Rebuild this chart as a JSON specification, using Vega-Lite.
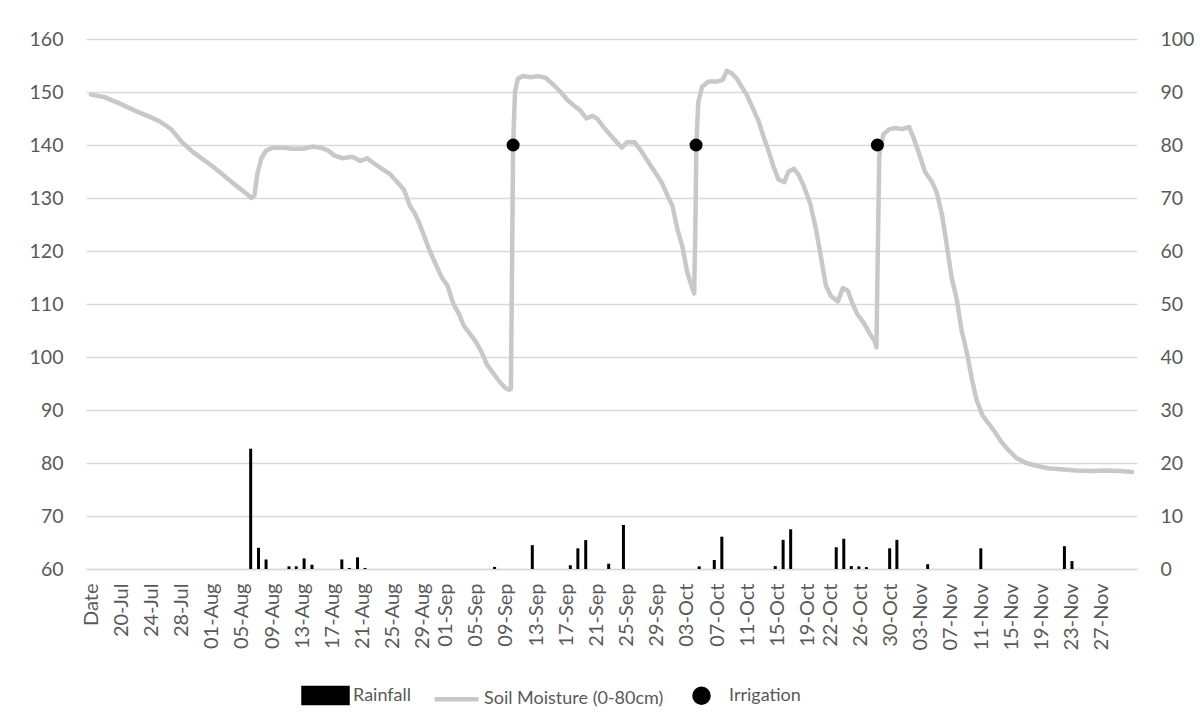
{
  "$schema": "https://vega.github.io/schema/vega-lite/v6.json",
  "autosize": {"type": "none"},
  "width": 1051,
  "height": 530,
  "padding": {"left": 86, "top": 39, "right": 63, "bottom": 157},
  "background": "white",
  "config": {
    "view": {"stroke": null},
    "font": "Lato",
    "axis": {"labelFont": "Lato", "labelColor": "#595959", "labelFontSize": 19.5, "ticks": false, "title": null}
  },
  "datasets": {
    "rain": [
      {"date": "2019-08-06T04:00:00Z", "rain": 22.7},
      {"date": "2019-08-07T05:00:00Z", "rain": 4.0},
      {"date": "2019-08-08T05:00:00Z", "rain": 1.8},
      {"date": "2019-08-11T06:00:00Z", "rain": 0.5},
      {"date": "2019-08-12T05:00:00Z", "rain": 0.5},
      {"date": "2019-08-13T06:00:00Z", "rain": 2.0},
      {"date": "2019-08-14T07:00:00Z", "rain": 0.8},
      {"date": "2019-08-18T06:00:00Z", "rain": 1.8},
      {"date": "2019-08-19T06:00:00Z", "rain": 0.2},
      {"date": "2019-08-20T08:00:00Z", "rain": 2.2},
      {"date": "2019-08-21T08:00:00Z", "rain": 0.2},
      {"date": "2019-09-07T12:00:00Z", "rain": 0.4},
      {"date": "2019-09-12T12:00:00Z", "rain": 4.5},
      {"date": "2019-09-17T13:00:00Z", "rain": 0.7},
      {"date": "2019-09-18T13:00:00Z", "rain": 3.9},
      {"date": "2019-09-19T14:00:00Z", "rain": 5.45},
      {"date": "2019-09-22T15:00:00Z", "rain": 1.0},
      {"date": "2019-09-24T14:00:00Z", "rain": 8.3},
      {"date": "2019-10-04T15:00:00Z", "rain": 0.5},
      {"date": "2019-10-06T15:00:00Z", "rain": 1.7},
      {"date": "2019-10-07T15:00:00Z", "rain": 6.1},
      {"date": "2019-10-14T17:00:00Z", "rain": 0.55},
      {"date": "2019-10-15T18:00:00Z", "rain": 5.5},
      {"date": "2019-10-16T18:00:00Z", "rain": 7.5},
      {"date": "2019-10-22T19:00:00Z", "rain": 4.1},
      {"date": "2019-10-23T19:00:00Z", "rain": 5.7},
      {"date": "2019-10-24T19:00:00Z", "rain": 0.55},
      {"date": "2019-10-25T19:00:00Z", "rain": 0.5},
      {"date": "2019-10-26T19:00:00Z", "rain": 0.35},
      {"date": "2019-10-29T21:00:00Z", "rain": 3.9},
      {"date": "2019-10-30T20:00:00Z", "rain": 5.5},
      {"date": "2019-11-03T22:00:00Z", "rain": 0.9},
      {"date": "2019-11-10T23:00:00Z", "rain": 3.9},
      {"date": "2019-11-22T01:00:00Z", "rain": 4.3},
      {"date": "2019-11-23T01:00:00Z", "rain": 1.5}
    ],
    "irrigation": [
      {"date": "2019-09-09T23:00:00Z", "irrigation": 80},
      {"date": "2019-10-04T05:00:00Z", "irrigation": 80},
      {"date": "2019-10-28T06:00:00Z", "irrigation": 80}
    ],
    "soil": [
      {"date": "2019-07-16T00:00:00Z", "moisture": 149.5},
      {"date": "2019-07-17T20:00:00Z", "moisture": 149},
      {"date": "2019-07-19T13:00:00Z", "moisture": 148},
      {"date": "2019-07-21T19:00:00Z", "moisture": 146.5},
      {"date": "2019-07-23T12:00:00Z", "moisture": 145.5},
      {"date": "2019-07-25T01:00:00Z", "moisture": 144.5},
      {"date": "2019-07-26T15:00:00Z", "moisture": 143},
      {"date": "2019-07-28T02:00:00Z", "moisture": 140.5},
      {"date": "2019-07-29T16:00:00Z", "moisture": 138.5},
      {"date": "2019-07-31T15:00:00Z", "moisture": 136.5},
      {"date": "2019-08-01T23:00:00Z", "moisture": 135},
      {"date": "2019-08-03T06:00:00Z", "moisture": 133.5},
      {"date": "2019-08-04T13:00:00Z", "moisture": 132},
      {"date": "2019-08-05T15:00:00Z", "moisture": 130.8},
      {"date": "2019-08-06T06:00:00Z", "moisture": 130},
      {"date": "2019-08-06T16:00:00Z", "moisture": 130.5},
      {"date": "2019-08-07T01:00:00Z", "moisture": 134.5},
      {"date": "2019-08-07T14:00:00Z", "moisture": 137.5},
      {"date": "2019-08-08T06:00:00Z", "moisture": 139},
      {"date": "2019-08-09T04:00:00Z", "moisture": 139.5},
      {"date": "2019-08-10T11:00:00Z", "moisture": 139.5},
      {"date": "2019-08-11T19:00:00Z", "moisture": 139.3},
      {"date": "2019-08-13T02:00:00Z", "moisture": 139.3},
      {"date": "2019-08-14T10:00:00Z", "moisture": 139.7},
      {"date": "2019-08-15T11:00:00Z", "moisture": 139.5},
      {"date": "2019-08-16T09:00:00Z", "moisture": 139},
      {"date": "2019-08-17T07:00:00Z", "moisture": 138},
      {"date": "2019-08-18T08:00:00Z", "moisture": 137.5},
      {"date": "2019-08-19T16:00:00Z", "moisture": 137.8},
      {"date": "2019-08-20T17:00:00Z", "moisture": 137},
      {"date": "2019-08-21T15:00:00Z", "moisture": 137.5},
      {"date": "2019-08-22T13:00:00Z", "moisture": 136.5},
      {"date": "2019-08-23T14:00:00Z", "moisture": 135.5},
      {"date": "2019-08-24T16:00:00Z", "moisture": 134.5},
      {"date": "2019-08-25T14:00:00Z", "moisture": 133},
      {"date": "2019-08-26T12:00:00Z", "moisture": 131.5},
      {"date": "2019-08-27T07:00:00Z", "moisture": 128.5},
      {"date": "2019-08-27T23:00:00Z", "moisture": 127},
      {"date": "2019-08-28T14:00:00Z", "moisture": 125},
      {"date": "2019-08-29T09:00:00Z", "moisture": 122},
      {"date": "2019-08-29T22:00:00Z", "moisture": 120},
      {"date": "2019-08-30T13:00:00Z", "moisture": 118},
      {"date": "2019-08-31T12:00:00Z", "moisture": 115},
      {"date": "2019-09-01T06:00:00Z", "moisture": 113.5},
      {"date": "2019-09-02T01:00:00Z", "moisture": 110},
      {"date": "2019-09-02T20:00:00Z", "moisture": 108},
      {"date": "2019-09-03T09:00:00Z", "moisture": 106},
      {"date": "2019-09-04T04:00:00Z", "moisture": 104.5},
      {"date": "2019-09-04T23:00:00Z", "moisture": 103},
      {"date": "2019-09-05T18:00:00Z", "moisture": 101},
      {"date": "2019-09-06T12:00:00Z", "moisture": 98.5},
      {"date": "2019-09-07T07:00:00Z", "moisture": 97},
      {"date": "2019-09-08T02:00:00Z", "moisture": 95.5},
      {"date": "2019-09-08T21:00:00Z", "moisture": 94.2},
      {"date": "2019-09-09T10:00:00Z", "moisture": 93.8},
      {"date": "2019-09-09T16:00:00Z", "moisture": 94},
      {"date": "2019-09-09T23:00:00Z", "moisture": 140},
      {"date": "2019-09-10T05:00:00Z", "moisture": 150},
      {"date": "2019-09-10T14:00:00Z", "moisture": 152.5},
      {"date": "2019-09-11T06:00:00Z", "moisture": 153},
      {"date": "2019-09-12T07:00:00Z", "moisture": 152.8},
      {"date": "2019-09-13T05:00:00Z", "moisture": 153},
      {"date": "2019-09-14T06:00:00Z", "moisture": 152.7},
      {"date": "2019-09-15T05:00:00Z", "moisture": 151.5},
      {"date": "2019-09-16T06:00:00Z", "moisture": 150},
      {"date": "2019-09-17T04:00:00Z", "moisture": 148.5},
      {"date": "2019-09-17T23:00:00Z", "moisture": 147.5},
      {"date": "2019-09-18T21:00:00Z", "moisture": 146.5},
      {"date": "2019-09-19T16:00:00Z", "moisture": 145},
      {"date": "2019-09-20T11:00:00Z", "moisture": 145.5},
      {"date": "2019-09-21T02:00:00Z", "moisture": 145},
      {"date": "2019-09-21T21:00:00Z", "moisture": 143.5},
      {"date": "2019-09-22T19:00:00Z", "moisture": 142},
      {"date": "2019-09-23T17:00:00Z", "moisture": 140.5},
      {"date": "2019-09-24T09:00:00Z", "moisture": 139.5},
      {"date": "2019-09-25T01:00:00Z", "moisture": 140.5},
      {"date": "2019-09-26T02:00:00Z", "moisture": 140.5},
      {"date": "2019-09-26T21:00:00Z", "moisture": 139},
      {"date": "2019-09-27T19:00:00Z", "moisture": 137},
      {"date": "2019-09-28T17:00:00Z", "moisture": 135},
      {"date": "2019-09-29T15:00:00Z", "moisture": 133},
      {"date": "2019-09-30T10:00:00Z", "moisture": 130.5},
      {"date": "2019-10-01T02:00:00Z", "moisture": 128.5},
      {"date": "2019-10-01T18:00:00Z", "moisture": 124},
      {"date": "2019-10-02T09:00:00Z", "moisture": 121},
      {"date": "2019-10-03T01:00:00Z", "moisture": 116},
      {"date": "2019-10-03T14:00:00Z", "moisture": 113.5},
      {"date": "2019-10-03T23:00:00Z", "moisture": 112},
      {"date": "2019-10-04T03:00:00Z", "moisture": 125},
      {"date": "2019-10-04T06:00:00Z", "moisture": 140},
      {"date": "2019-10-04T12:00:00Z", "moisture": 148},
      {"date": "2019-10-05T00:00:00Z", "moisture": 151},
      {"date": "2019-10-05T22:00:00Z", "moisture": 152},
      {"date": "2019-10-07T00:00:00Z", "moisture": 152},
      {"date": "2019-10-07T18:00:00Z", "moisture": 152.3},
      {"date": "2019-10-08T07:00:00Z", "moisture": 154},
      {"date": "2019-10-08T23:00:00Z", "moisture": 153.5},
      {"date": "2019-10-09T15:00:00Z", "moisture": 152.5},
      {"date": "2019-10-10T06:00:00Z", "moisture": 151},
      {"date": "2019-10-10T22:00:00Z", "moisture": 149.5},
      {"date": "2019-10-11T17:00:00Z", "moisture": 147},
      {"date": "2019-10-12T12:00:00Z", "moisture": 144.5},
      {"date": "2019-10-13T04:00:00Z", "moisture": 141.5},
      {"date": "2019-10-13T19:00:00Z", "moisture": 139},
      {"date": "2019-10-14T11:00:00Z", "moisture": 136},
      {"date": "2019-10-15T03:00:00Z", "moisture": 133.5},
      {"date": "2019-10-15T22:00:00Z", "moisture": 133},
      {"date": "2019-10-16T11:00:00Z", "moisture": 135},
      {"date": "2019-10-17T05:00:00Z", "moisture": 135.5},
      {"date": "2019-10-17T18:00:00Z", "moisture": 134.5},
      {"date": "2019-10-18T10:00:00Z", "moisture": 132.5},
      {"date": "2019-10-19T08:00:00Z", "moisture": 129},
      {"date": "2019-10-20T03:00:00Z", "moisture": 124},
      {"date": "2019-10-20T18:00:00Z", "moisture": 119},
      {"date": "2019-10-21T10:00:00Z", "moisture": 113.5},
      {"date": "2019-10-22T02:00:00Z", "moisture": 111.5},
      {"date": "2019-10-23T00:00:00Z", "moisture": 110.5},
      {"date": "2019-10-23T16:00:00Z", "moisture": 113},
      {"date": "2019-10-24T08:00:00Z", "moisture": 112.5},
      {"date": "2019-10-24T23:00:00Z", "moisture": 110},
      {"date": "2019-10-25T15:00:00Z", "moisture": 108},
      {"date": "2019-10-26T10:00:00Z", "moisture": 106.5},
      {"date": "2019-10-27T05:00:00Z", "moisture": 104.5},
      {"date": "2019-10-27T21:00:00Z", "moisture": 103},
      {"date": "2019-10-28T03:00:00Z", "moisture": 101.8},
      {"date": "2019-10-28T06:00:00Z", "moisture": 115},
      {"date": "2019-10-28T12:00:00Z", "moisture": 138},
      {"date": "2019-10-29T01:00:00Z", "moisture": 142},
      {"date": "2019-10-29T20:00:00Z", "moisture": 143},
      {"date": "2019-10-30T15:00:00Z", "moisture": 143.2},
      {"date": "2019-10-31T13:00:00Z", "moisture": 143},
      {"date": "2019-11-01T11:00:00Z", "moisture": 143.4},
      {"date": "2019-11-02T03:00:00Z", "moisture": 141},
      {"date": "2019-11-02T18:00:00Z", "moisture": 138.5},
      {"date": "2019-11-03T13:00:00Z", "moisture": 135},
      {"date": "2019-11-04T12:00:00Z", "moisture": 133},
      {"date": "2019-11-05T03:00:00Z", "moisture": 131},
      {"date": "2019-11-05T19:00:00Z", "moisture": 127},
      {"date": "2019-11-06T11:00:00Z", "moisture": 121},
      {"date": "2019-11-07T02:00:00Z", "moisture": 115},
      {"date": "2019-11-07T18:00:00Z", "moisture": 111},
      {"date": "2019-11-08T10:00:00Z", "moisture": 105},
      {"date": "2019-11-09T02:00:00Z", "moisture": 101},
      {"date": "2019-11-09T18:00:00Z", "moisture": 96},
      {"date": "2019-11-10T09:00:00Z", "moisture": 92},
      {"date": "2019-11-11T04:00:00Z", "moisture": 89},
      {"date": "2019-11-11T23:00:00Z", "moisture": 87.5},
      {"date": "2019-11-12T18:00:00Z", "moisture": 86},
      {"date": "2019-11-13T16:00:00Z", "moisture": 84},
      {"date": "2019-11-14T14:00:00Z", "moisture": 82.5},
      {"date": "2019-11-15T15:00:00Z", "moisture": 81},
      {"date": "2019-11-16T23:00:00Z", "moisture": 80},
      {"date": "2019-11-18T06:00:00Z", "moisture": 79.5},
      {"date": "2019-11-19T20:00:00Z", "moisture": 79},
      {"date": "2019-11-21T13:00:00Z", "moisture": 78.8},
      {"date": "2019-11-23T12:00:00Z", "moisture": 78.6},
      {"date": "2019-11-25T12:00:00Z", "moisture": 78.5},
      {"date": "2019-11-27T11:00:00Z", "moisture": 78.6},
      {"date": "2019-11-29T10:00:00Z", "moisture": 78.5},
      {"date": "2019-12-01T00:00:00Z", "moisture": 78.3}
    ]
  },
  "encoding": {
    "x": {
      "field": "date", "type": "temporal",
      "scale": {"type": "utc", "domain": [{"year": 2019, "month": 7, "date": 16, "utc": true}, {"year": 2019, "month": 12, "date": 1, "utc": true}], "nice": false},
      "axis": {
        "values": [
          {"year": 2019, "month": 7, "date": 16, "utc": true},
          {"year": 2019, "month": 7, "date": 20, "utc": true},
          {"year": 2019, "month": 7, "date": 24, "utc": true},
          {"year": 2019, "month": 7, "date": 28, "utc": true},
          {"year": 2019, "month": 8, "date": 1, "utc": true},
          {"year": 2019, "month": 8, "date": 5, "utc": true},
          {"year": 2019, "month": 8, "date": 9, "utc": true},
          {"year": 2019, "month": 8, "date": 13, "utc": true},
          {"year": 2019, "month": 8, "date": 17, "utc": true},
          {"year": 2019, "month": 8, "date": 21, "utc": true},
          {"year": 2019, "month": 8, "date": 25, "utc": true},
          {"year": 2019, "month": 8, "date": 29, "utc": true},
          {"year": 2019, "month": 9, "date": 1, "utc": true},
          {"year": 2019, "month": 9, "date": 5, "utc": true},
          {"year": 2019, "month": 9, "date": 9, "utc": true},
          {"year": 2019, "month": 9, "date": 13, "utc": true},
          {"year": 2019, "month": 9, "date": 17, "utc": true},
          {"year": 2019, "month": 9, "date": 21, "utc": true},
          {"year": 2019, "month": 9, "date": 25, "utc": true},
          {"year": 2019, "month": 9, "date": 29, "utc": true},
          {"year": 2019, "month": 10, "date": 3, "utc": true},
          {"year": 2019, "month": 10, "date": 7, "utc": true},
          {"year": 2019, "month": 10, "date": 11, "utc": true},
          {"year": 2019, "month": 10, "date": 15, "utc": true},
          {"year": 2019, "month": 10, "date": 19, "utc": true},
          {"year": 2019, "month": 10, "date": 22, "utc": true},
          {"year": 2019, "month": 10, "date": 26, "utc": true},
          {"year": 2019, "month": 10, "date": 30, "utc": true},
          {"year": 2019, "month": 11, "date": 3, "utc": true},
          {"year": 2019, "month": 11, "date": 7, "utc": true},
          {"year": 2019, "month": 11, "date": 11, "utc": true},
          {"year": 2019, "month": 11, "date": 15, "utc": true},
          {"year": 2019, "month": 11, "date": 19, "utc": true},
          {"year": 2019, "month": 11, "date": 23, "utc": true},
          {"year": 2019, "month": 11, "date": 27, "utc": true}
        ],
        "labelExpr": "utcFormat(datum.value, '%d-%b') == '16-Jul' ? 'Date' : utcFormat(datum.value, '%d-%b')",
        "labelAngle": -90,
        "labelFontSize": 20,
        "labelPadding": 14,
        "labelOverlap": false,
        "labelFlush": false,
        "labelBound": false,
        "grid": false,
        "domain": true,
        "domainColor": "#d9d9d9",
        "domainWidth": 1.3
      }
    }
  },
  "layer": [
    {
      "data": {"name": "rain"},
      "mark": {"type": "bar", "size": 3, "orient": "vertical"},
      "encoding": {
        "y": {
          "field": "rain", "type": "quantitative",
          "scale": {"domain": [0, 100], "nice": false},
          "axis": {"orient": "right", "values": [0,10,20,30,40,50,60,70,80,90,100], "grid": false, "domain": false, "labelPadding": 23}
        },
        "color": {
          "datum": "Rainfall", "type": "nominal",
          "scale": {"domain": ["Rainfall", "Soil Moisture (0-80cm)", "Irrigation"], "range": ["#000000", "#c8c8c8", "#000000"]},
          "legend": {
            "orient": "none",
            "legendX": 215,
            "legendY": 632,
            "direction": "horizontal",
            "title": null,
            "symbolSize": 1936,
            "labelFont": "Lato",
            "labelFontSize": 18,
            "labelColor": "#595959",
            "labelOffset": 3,
            "labelLimit": 400,
            "columnPadding": 13,
            "encode": {
              "symbols": {
                "update": {
                  "shape": {"signal": "datum.value === 'Rainfall' ? 'M-1,-0.34H1V0.34H-1Z' : datum.value === 'Irrigation' ? 'M-0.32,0A0.32,0.32 0 1,0 0.32,0A0.32,0.32 0 1,0 -0.32,0Z' : 'M-1,0H1'"},
                  "fill": {"signal": "datum.value === 'Soil Moisture (0-80cm)' ? 'transparent' : '#000000'"},
                  "stroke": {"signal": "datum.value === 'Soil Moisture (0-80cm)' ? '#c8c8c8' : 'transparent'"},
                  "strokeWidth": {"value": 4.5},
                  "size": {"value": 1936},
                  "opacity": {"value": 1},
                  "fillOpacity": {"value": 1},
                  "strokeOpacity": {"value": 1}
                }
              }
            }
          }
        }
      }
    },
    {
      "data": {"name": "soil"},
      "mark": {"type": "line", "strokeWidth": 4.5, "strokeJoin": "round", "strokeCap": "round"},
      "encoding": {
        "y": {
          "field": "moisture", "type": "quantitative",
          "scale": {"domain": [60, 160], "nice": false, "zero": false},
          "axis": {"orient": "left", "values": [60,70,80,90,100,110,120,130,140,150,160], "grid": true, "gridColor": "#d9d9d9", "gridWidth": 1.3, "domain": false, "labelPadding": 23}
        },
        "color": {"datum": "Soil Moisture (0-80cm)", "type": "nominal"}
      }
    },
    {
      "data": {"name": "irrigation"},
      "mark": {"type": "point", "filled": true, "size": 170, "shape": "circle", "opacity": 1},
      "encoding": {
        "y": {"field": "irrigation", "type": "quantitative", "scale": {"domain": [0, 100], "nice": false}, "axis": null},
        "color": {"datum": "Irrigation", "type": "nominal"}
      }
    }
  ],
  "resolve": {"scale": {"y": "independent"}, "axis": {"y": "independent"}}
}
